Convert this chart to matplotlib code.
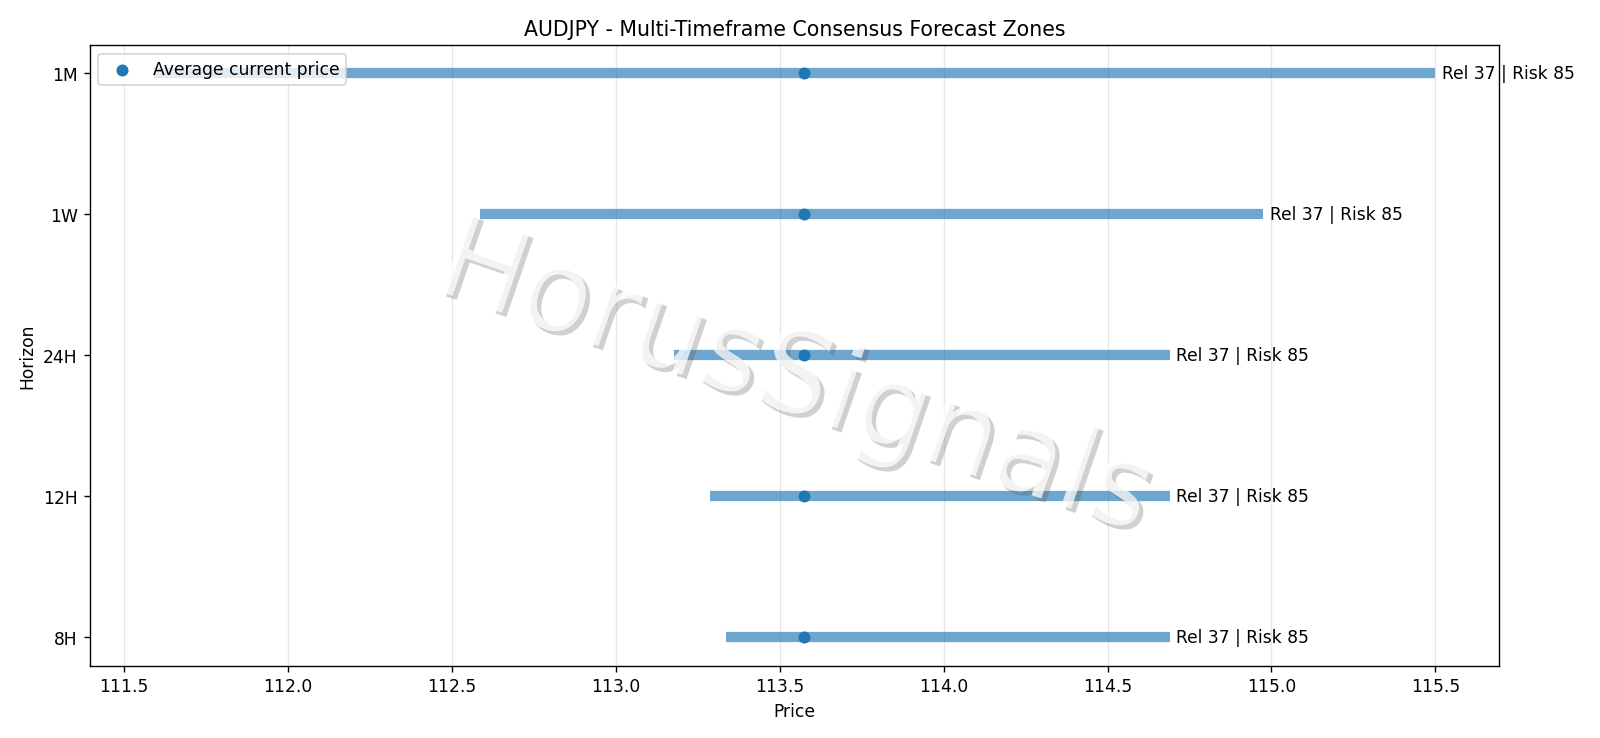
import matplotlib
matplotlib.use("Agg")
import matplotlib.pyplot as plt
import matplotlib.patheffects as pe

horizons = ["8H", "12H", "24H", "1W", "1M"]
zone_low = [113.335, 113.287, 113.178, 112.586, 111.59]
zone_high = [114.69, 114.69, 114.69, 114.974, 115.50]
current_price = 113.573
rel = [37, 37, 37, 37, 37]
risk = [85, 85, 85, 85, 85]

fig, ax = plt.subplots(figsize=(13, 6), dpi=123.1)
fig.subplots_adjust(left=0.056, right=0.937, top=0.938, bottom=0.098)

ypos = list(range(len(horizons)))
ax.hlines(ypos, zone_low, zone_high, colors="#1f77b4", linewidth=6, alpha=0.65)
ax.scatter([current_price] * len(horizons), ypos, color="#1f77b4", s=36, zorder=3,
           label="Average current price")
for y, hi, r, k in zip(ypos, zone_high, rel, risk):
    ax.text(hi + 0.02, y, f"Rel {r} | Risk {k}", va="center", ha="left", fontsize=10)

ax.set_yticks(ypos)
ax.set_yticklabels(horizons)
ax.set_xlabel("Price")
ax.set_ylabel("Horizon")
ax.set_title("AUDJPY - Multi-Timeframe Consensus Forecast Zones")
ax.grid(axis="x", alpha=0.3)
ax.legend(loc="upper left")

ax.text(0.5, 0.46, "HorusSignals", transform=ax.transAxes, fontsize=67,
        rotation=-19, ha="center", va="center", color="white", alpha=0.75,
        zorder=10,
        path_effects=[pe.SimplePatchShadow(offset=(2.5, -2.5), shadow_rgbFace=(0.35, 0.35, 0.35), alpha=0.28),
                      pe.Normal()])

fig.savefig("out.png")
